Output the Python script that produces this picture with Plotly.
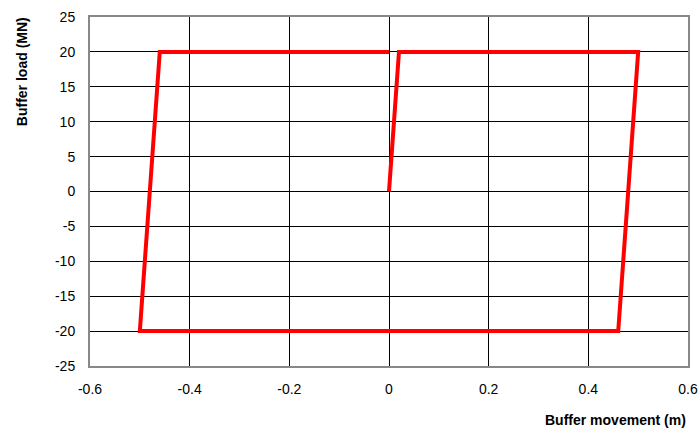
import plotly.graph_objects as go

x_vals = [0.0, 0.02, 0.5, 0.46, -0.5, -0.46, 0.0]
y_vals = [0, 20, 20, -20, -20, 20, 20]

x_ticks = [-0.6, -0.4, -0.2, 0, 0.2, 0.4, 0.6]
x_tick_text = ["-0.6", "-0.4", "-0.2", "0", "0.2", "0.4", "0.6"]
y_ticks = [-25, -20, -15, -10, -5, 0, 5, 10, 15, 20, 25]
y_tick_text = ["-25", "-20", "-15", "-10", "-5", "0", "5", "10", "15", "20", "25"]

fig = go.Figure()
fig.add_trace(go.Scatter(x=x_vals, y=y_vals, mode="lines",
                         line=dict(color="#FF0000", width=4), showlegend=False))

fam = "Liberation Sans, Arial, sans-serif"
font = dict(family=fam, size=14, color="black")
fig.update_layout(
    width=700, height=428,
    margin=dict(l=90, r=12, t=17, b=62, autoexpand=False),
    paper_bgcolor="white", plot_bgcolor="white",
    font=font,
    xaxis=dict(range=[-0.6, 0.6], tickvals=x_ticks, ticktext=x_tick_text,
               showgrid=True, gridcolor="black", gridwidth=1,
               zeroline=True, zerolinecolor="black", zerolinewidth=1,
               showline=True, linecolor="#888888", linewidth=2, mirror=True,
               ticks="", ticklabelstandoff=9, tickfont=font, automargin=False),
    yaxis=dict(range=[-25, 25], tickvals=y_ticks, ticktext=y_tick_text,
               showgrid=True, gridcolor="black", gridwidth=1,
               zeroline=True, zerolinecolor="black", zerolinewidth=1,
               showline=True, linecolor="#888888", linewidth=2, mirror=True,
               ticks="", ticklabelstandoff=10, tickfont=font, automargin=False),
    annotations=[
        dict(text="<b>Buffer load (MN)</b>", textangle=-90, xref="paper", yref="paper",
             x=-0.1137, y=0.842, xanchor="center", yanchor="middle", showarrow=False,
             font=dict(family=fam, size=14, color="black")),
        dict(text="<b>Buffer movement (m)</b>", xref="paper", yref="paper",
             x=1.0, y=-0.1547, xanchor="right", yanchor="middle",
             showarrow=False,
             font=dict(family=fam, size=14, color="black")),
    ],
)
fig.write_html("out.html", config={"displayModeBar": False},
               post_script="document.body.style.margin='0';")
